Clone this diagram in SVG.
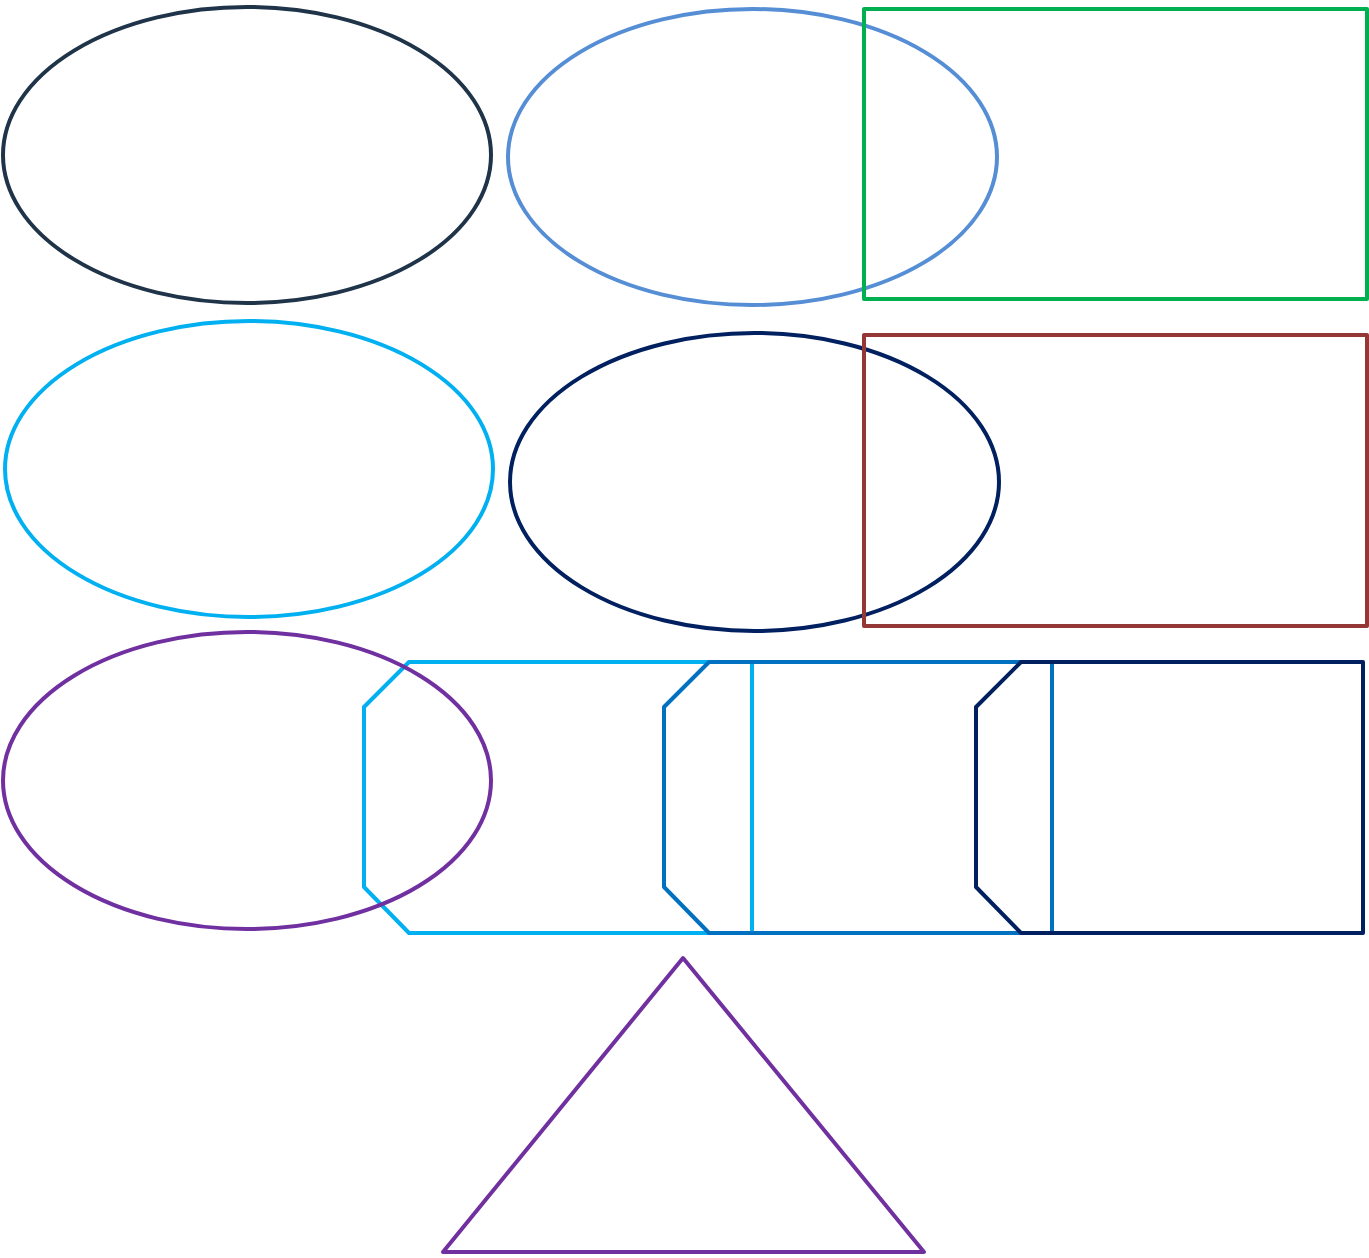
<svg xmlns="http://www.w3.org/2000/svg" width="1369" height="1258" viewBox="0 0 1369 1258">
<style>
.s{fill:none;stroke-width:4;stroke-linejoin:round}
</style>
<rect width="1369" height="1258" fill="#fff"/>
<g id="e1"><ellipse class="s" cx="247" cy="155" rx="244" ry="148" stroke="#1F3449"/></g>
<g id="e2"><ellipse class="s" cx="752.5" cy="157" rx="244.5" ry="148" stroke="#558ED5"/></g>
<g id="r1"><rect class="s" x="864" y="9" width="503" height="290" stroke="#00B050" stroke-linejoin="miter"/></g>
<g id="e3"><ellipse class="s" cx="249" cy="469" rx="244" ry="148" stroke="#00B0F0"/></g>
<g id="e4"><ellipse class="s" cx="754.5" cy="482" rx="244.5" ry="149" stroke="#002060"/></g>
<g id="r2"><rect class="s" x="864" y="335" width="503" height="291" stroke="#953735" stroke-linejoin="miter"/></g>
<g id="p1"><polygon class="s" points="409,662 752,662 752,933 409,933 364,887 364,707" stroke="#00B0F0"/></g>
<g id="e5"><ellipse class="s" cx="247" cy="780.5" rx="244" ry="148.5" stroke="#7030A0"/></g>
<g id="p2"><polygon class="s" points="709,662 1052,662 1052,933 709,933 664,887 664,707" stroke="#0070C0"/></g>
<g id="p3"><polygon class="s" points="1021,662 1363,662 1363,933 1021,933 976,887 976,707" stroke="#002060"/></g>
<g id="t1"><polygon class="s" points="683,958 924,1252 443,1252" stroke="#7030A0"/></g>
<g id="connectors"></g>
</svg>
